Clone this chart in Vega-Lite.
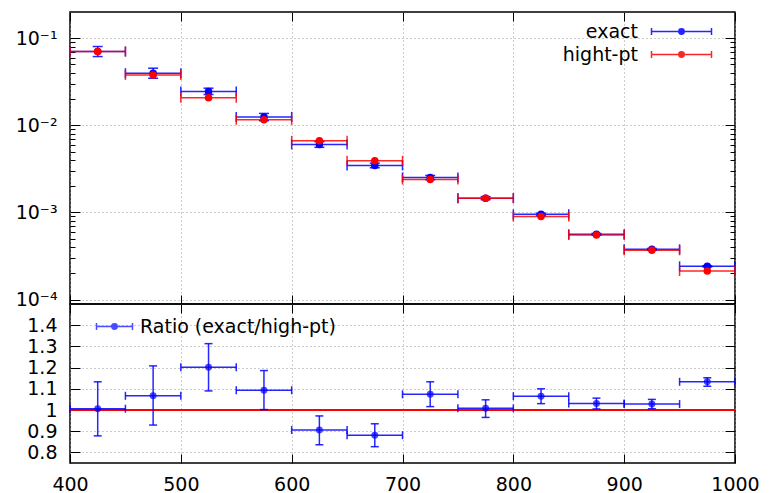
{
  "$schema": "https://vega.github.io/schema/vega-lite/v6.json",
  "autosize": {"type": "pad"},
  "padding": {"left": 14, "top": 10, "right": 0, "bottom": 0},
  "background": "white",
  "config": {
    "font": "DejaVu Sans",
    "view": {"stroke": "black", "strokeWidth": 1.5},
    "axis": {
      "labelFont": "DejaVu Sans", "labelFontSize": 19, "labelColor": "black", "labelFlush": false,
      "domain": false, "tickColor": "black", "tickWidth": 1,
      "gridColor": "#999999", "gridDash": [1, 3], "gridWidth": 1, "title": null
    },
    "legend": {"labelFont": "DejaVu Sans", "labelFontSize": 19, "labelColor": "black", "padding": 0, "labelLimit": 400}
  },
  "datasets": {
    "top": [
      {"s": "exact", "lo": 400, "hi": 450, "xc": 425, "y": 0.0703, "ylo": 0.0616, "yhi": 0.0803},
      {"s": "exact", "lo": 450, "hi": 500, "xc": 475, "y": 0.0397, "ylo": 0.0347, "yhi": 0.0453},
      {"s": "exact", "lo": 500, "hi": 550, "xc": 525, "y": 0.0245, "ylo": 0.0226, "yhi": 0.0267},
      {"s": "exact", "lo": 550, "hi": 600, "xc": 575, "y": 0.0125, "ylo": 0.0113, "yhi": 0.0137},
      {"s": "exact", "lo": 600, "hi": 650, "xc": 625, "y": 0.00604, "ylo": 0.00559, "yhi": 0.00649},
      {"s": "exact", "lo": 650, "hi": 700, "xc": 675, "y": 0.00347, "ylo": 0.00326, "yhi": 0.00368},
      {"s": "exact", "lo": 700, "hi": 750, "xc": 725, "y": 0.00252, "ylo": 0.00238, "yhi": 0.00266},
      {"s": "exact", "lo": 750, "hi": 800, "xc": 775, "y": 0.00146, "ylo": 0.0014, "yhi": 0.00152},
      {"s": "exact", "lo": 800, "hi": 850, "xc": 825, "y": 0.000951, "ylo": 0.00092, "yhi": 0.000982},
      {"s": "exact", "lo": 850, "hi": 900, "xc": 875, "y": 0.000561, "ylo": 0.000547, "yhi": 0.000575},
      {"s": "exact", "lo": 900, "hi": 950, "xc": 925, "y": 0.000378, "ylo": 0.00037, "yhi": 0.000386},
      {"s": "exact", "lo": 950, "hi": 1000, "xc": 975, "y": 0.000241, "ylo": 0.000237, "yhi": 0.000245},
      {"s": "hight-pt", "lo": 400, "hi": 450, "xc": 425, "y": 0.0705},
      {"s": "hight-pt", "lo": 450, "hi": 500, "xc": 475, "y": 0.0379},
      {"s": "hight-pt", "lo": 500, "hi": 550, "xc": 525, "y": 0.0207},
      {"s": "hight-pt", "lo": 550, "hi": 600, "xc": 575, "y": 0.0116},
      {"s": "hight-pt", "lo": 600, "hi": 650, "xc": 625, "y": 0.00664},
      {"s": "hight-pt", "lo": 650, "hi": 700, "xc": 675, "y": 0.00392},
      {"s": "hight-pt", "lo": 700, "hi": 750, "xc": 725, "y": 0.00239},
      {"s": "hight-pt", "lo": 750, "hi": 800, "xc": 775, "y": 0.00146},
      {"s": "hight-pt", "lo": 800, "hi": 850, "xc": 825, "y": 0.000898},
      {"s": "hight-pt", "lo": 850, "hi": 900, "xc": 875, "y": 0.000551},
      {"s": "hight-pt", "lo": 900, "hi": 950, "xc": 925, "y": 0.000368},
      {"s": "hight-pt", "lo": 950, "hi": 1000, "xc": 975, "y": 0.000213}
    ],
    "ratio": [
      {"s": "Ratio (exact/high-pt)", "lo": 400, "hi": 450, "xc": 425, "r": 1.006, "rlo": 0.878, "rhi": 1.133},
      {"s": "Ratio (exact/high-pt)", "lo": 450, "hi": 500, "xc": 475, "r": 1.067, "rlo": 0.929, "rhi": 1.208},
      {"s": "Ratio (exact/high-pt)", "lo": 500, "hi": 550, "xc": 525, "r": 1.202, "rlo": 1.09, "rhi": 1.313},
      {"s": "Ratio (exact/high-pt)", "lo": 550, "hi": 600, "xc": 575, "r": 1.093, "rlo": 1.002, "rhi": 1.186},
      {"s": "Ratio (exact/high-pt)", "lo": 600, "hi": 650, "xc": 625, "r": 0.906, "rlo": 0.836, "rhi": 0.972},
      {"s": "Ratio (exact/high-pt)", "lo": 650, "hi": 700, "xc": 675, "r": 0.881, "rlo": 0.827, "rhi": 0.935},
      {"s": "Ratio (exact/high-pt)", "lo": 700, "hi": 750, "xc": 725, "r": 1.074, "rlo": 1.016, "rhi": 1.133},
      {"s": "Ratio (exact/high-pt)", "lo": 750, "hi": 800, "xc": 775, "r": 1.008, "rlo": 0.965, "rhi": 1.048},
      {"s": "Ratio (exact/high-pt)", "lo": 800, "hi": 850, "xc": 825, "r": 1.065, "rlo": 1.03, "rhi": 1.1},
      {"s": "Ratio (exact/high-pt)", "lo": 850, "hi": 900, "xc": 875, "r": 1.031, "rlo": 1.005, "rhi": 1.056},
      {"s": "Ratio (exact/high-pt)", "lo": 900, "hi": 950, "xc": 925, "r": 1.028, "rlo": 1.006, "rhi": 1.05},
      {"s": "Ratio (exact/high-pt)", "lo": 950, "hi": 1000, "xc": 975, "r": 1.133, "rlo": 1.112, "rhi": 1.152}
    ]
  },
  "resolve": {
    "scale": {"fill": "independent", "stroke": "independent"},
    "legend": {"fill": "independent", "stroke": "independent"}
  },
  "spacing": 0,
  "bounds": "flush",
  "vconcat": [
    {
      "width": 665,
      "height": 292,
      "data": {"name": "top"},
      "resolve": {"axis": {"x": "independent", "y": "independent"}},
      "layer": [
        {
          "mark": {"type": "rule", "strokeWidth": 1.5, "opacity": 0.85},
          "encoding": {
            "x": {"field": "lo", "type": "quantitative", "scale": {"domain": [400, 1000], "nice": false, "zero": false},
                  "axis": {"orient": "bottom", "values": [400, 500, 600, 700, 800, 900, 1000], "labels": false, "tickSize": -9, "grid": true}},
            "x2": {"field": "hi"},
            "y": {"field": "y", "type": "quantitative", "scale": {"type": "log", "domain": [0.000089, 0.2], "nice": false},
                  "axis": {"orient": "left", "values": [0.0001, 0.001, 0.01, 0.1], "tickSize": -10, "grid": true, "labelPadding": 23,
                           "labelExpr": "datum.value < 0.0005 ? '10⁻⁴' : datum.value < 0.005 ? '10⁻³' : datum.value < 0.05 ? '10⁻²' : '10⁻¹'"}},
            "color": {"condition": {"test": "datum.s === 'exact'", "value": "#0000ff"}, "value": "#ff0000"}
          }
        },
        {
          "mark": {"type": "tick", "orient": "vertical", "size": 10, "thickness": 1.5, "opacity": 0.85},
          "encoding": {
            "x": {"field": "lo", "type": "quantitative", "scale": {"domain": [400, 1000], "nice": false, "zero": false},
                  "axis": {"orient": "top", "values": [400, 500, 600, 700, 800, 900, 1000], "labels": false, "tickSize": -9, "grid": false}},
            "y": {"field": "y", "type": "quantitative", "scale": {"type": "log", "domain": [0.000089, 0.2], "nice": false},
                  "axis": {"orient": "right", "values": [0.0001, 0.001, 0.01, 0.1], "labels": false, "tickSize": -10, "grid": false}},
            "color": {"condition": {"test": "datum.s === 'exact'", "value": "#0000ff"}, "value": "#ff0000"}
          }
        },
        {
          "mark": {"type": "tick", "orient": "vertical", "size": 10, "thickness": 1.5, "opacity": 0.85},
          "encoding": {
            "x": {"field": "hi", "type": "quantitative", "scale": {"domain": [400, 1000], "nice": false, "zero": false}, "axis": null},
            "y": {"field": "y", "type": "quantitative", "scale": {"type": "log", "domain": [0.000089, 0.2], "nice": false},
                  "axis": {"orient": "left", "values": [0.0002, 0.0003, 0.0004, 0.0005, 0.0006, 0.0007, 0.0008, 0.0009, 0.002, 0.003, 0.004, 0.005, 0.006, 0.007, 0.008, 0.009, 0.02, 0.03, 0.04, 0.05, 0.06, 0.07, 0.08, 0.09], "labels": false, "tickSize": -5, "grid": false}},
            "color": {"condition": {"test": "datum.s === 'exact'", "value": "#0000ff"}, "value": "#ff0000"}
          }
        },
        {
          "transform": [{"filter": "datum.s === 'exact'"}],
          "mark": {"type": "rule", "strokeWidth": 1.5, "opacity": 0.85, "color": "#0000ff"},
          "encoding": {
            "x": {"field": "xc", "type": "quantitative", "scale": {"domain": [400, 1000], "nice": false, "zero": false}, "axis": null},
            "y": {"field": "ylo", "type": "quantitative", "scale": {"type": "log", "domain": [0.000089, 0.2], "nice": false},
                  "axis": {"orient": "right", "values": [0.0002, 0.0003, 0.0004, 0.0005, 0.0006, 0.0007, 0.0008, 0.0009, 0.002, 0.003, 0.004, 0.005, 0.006, 0.007, 0.008, 0.009, 0.02, 0.03, 0.04, 0.05, 0.06, 0.07, 0.08, 0.09], "labels": false, "tickSize": -5, "grid": false}},
            "y2": {"field": "yhi"}
          }
        },
        {
          "transform": [{"filter": "datum.s === 'exact'"}],
          "mark": {"type": "tick", "orient": "horizontal", "size": 10, "thickness": 1.5, "opacity": 0.85, "color": "#0000ff"},
          "encoding": {
            "x": {"field": "xc", "type": "quantitative", "scale": {"domain": [400, 1000], "nice": false, "zero": false}, "axis": null},
            "y": {"field": "ylo", "type": "quantitative", "scale": {"type": "log", "domain": [0.000089, 0.2], "nice": false}, "axis": null}
          }
        },
        {
          "transform": [{"filter": "datum.s === 'exact'"}],
          "mark": {"type": "tick", "orient": "horizontal", "size": 10, "thickness": 1.5, "opacity": 0.85, "color": "#0000ff"},
          "encoding": {
            "x": {"field": "xc", "type": "quantitative", "scale": {"domain": [400, 1000], "nice": false, "zero": false}, "axis": null},
            "y": {"field": "yhi", "type": "quantitative", "scale": {"type": "log", "domain": [0.000089, 0.2], "nice": false}, "axis": null}
          }
        },
        {
          "mark": {"type": "point", "shape": "circle", "filled": true, "size": 36, "opacity": 1, "strokeWidth": 1.5},
          "encoding": {
            "x": {"field": "xc", "type": "quantitative", "scale": {"domain": [400, 1000], "nice": false, "zero": false}, "axis": null},
            "y": {"field": "y", "type": "quantitative", "scale": {"type": "log", "domain": [0.000089, 0.2], "nice": false}, "axis": null},
            "fill": {"field": "s", "type": "nominal", "scale": {"domain": ["exact", "hight-pt"], "range": ["#0000ff", "#ff0000"]},
                     "legend": {"title": null, "orient": "none", "legendX": 602, "legendY": 10, "symbolType": "M-5,0L5,0M-5,-0.6L-5,0.6M5,-0.6L5,0.6M0.45,0A0.45,0.45,0,1,1,-0.45,0A0.45,0.45,0,1,1,0.45,0Z", "symbolSize": 144, "symbolStrokeWidth": 1.5, "symbolOpacity": 0.85, "labelAlign": "right", "labelOffset": -53, "rowPadding": 3, "labelBaseline": "middle"}},
            "stroke": {"field": "s", "type": "nominal", "scale": {"domain": ["exact", "hight-pt"], "range": ["#0000ff", "#ff0000"]},
                     "legend": {"title": null, "orient": "none", "legendX": 602, "legendY": 10, "symbolType": "M-5,0L5,0M-5,-0.6L-5,0.6M5,-0.6L5,0.6M0.45,0A0.45,0.45,0,1,1,-0.45,0A0.45,0.45,0,1,1,0.45,0Z", "symbolSize": 144, "symbolStrokeWidth": 1.5, "symbolOpacity": 0.85, "labelAlign": "right", "labelOffset": -53, "rowPadding": 3, "labelBaseline": "middle"}}
          }
        }
      ]
    },
    {
      "width": 665,
      "height": 159,
      "data": {"name": "ratio"},
      "resolve": {"axis": {"x": "independent", "y": "independent"}},
      "layer": [
        {
          "mark": {"type": "rule", "color": "#ff0000", "strokeWidth": 1.5, "opacity": 0.85},
          "encoding": {
            "y": {"datum": 1, "type": "quantitative", "scale": {"domain": [0.75, 1.5], "nice": false, "zero": false}, "axis": null}
          }
        },
        {
          "mark": {"type": "rule", "strokeWidth": 1.5, "opacity": 0.85, "color": "#0000ff"},
          "encoding": {
            "x": {"field": "lo", "type": "quantitative", "scale": {"domain": [400, 1000], "nice": false, "zero": false},
                  "axis": {"orient": "bottom", "values": [400, 500, 600, 700, 800, 900, 1000], "format": "d", "tickSize": -9, "grid": true, "labelPadding": 21, "labelFlush": false, "labelOverlap": false}},
            "x2": {"field": "hi"},
            "y": {"field": "r", "type": "quantitative", "scale": {"domain": [0.75, 1.5], "nice": false, "zero": false},
                  "axis": {"orient": "left", "values": [0.8, 0.9, 1, 1.1, 1.2, 1.3, 1.4], "format": ".1~f", "tickSize": -10, "grid": true, "labelPadding": 23}}
          }
        },
        {
          "mark": {"type": "tick", "orient": "vertical", "size": 8, "thickness": 1.5, "opacity": 0.85, "color": "#0000ff"},
          "encoding": {
            "x": {"field": "lo", "type": "quantitative", "scale": {"domain": [400, 1000], "nice": false, "zero": false},
                  "axis": {"orient": "top", "values": [400, 500, 600, 700, 800, 900, 1000], "labels": false, "tickSize": -9, "grid": false}},
            "y": {"field": "r", "type": "quantitative", "scale": {"domain": [0.75, 1.5], "nice": false, "zero": false},
                  "axis": {"orient": "right", "values": [0.8, 0.9, 1, 1.1, 1.2, 1.3, 1.4], "labels": false, "tickSize": -10, "grid": false}}
          }
        },
        {
          "mark": {"type": "tick", "orient": "vertical", "size": 8, "thickness": 1.5, "opacity": 0.85, "color": "#0000ff"},
          "encoding": {
            "x": {"field": "hi", "type": "quantitative", "scale": {"domain": [400, 1000], "nice": false, "zero": false}, "axis": null},
            "y": {"field": "r", "type": "quantitative", "scale": {"domain": [0.75, 1.5], "nice": false, "zero": false}, "axis": null}
          }
        },
        {
          "mark": {"type": "rule", "strokeWidth": 1.5, "opacity": 0.85, "color": "#0000ff"},
          "encoding": {
            "x": {"field": "xc", "type": "quantitative", "scale": {"domain": [400, 1000], "nice": false, "zero": false}, "axis": null},
            "y": {"field": "rlo", "type": "quantitative", "scale": {"domain": [0.75, 1.5], "nice": false, "zero": false}, "axis": null},
            "y2": {"field": "rhi"}
          }
        },
        {
          "mark": {"type": "tick", "orient": "horizontal", "size": 8, "thickness": 1.5, "opacity": 0.85, "color": "#0000ff"},
          "encoding": {
            "x": {"field": "xc", "type": "quantitative", "scale": {"domain": [400, 1000], "nice": false, "zero": false}, "axis": null},
            "y": {"field": "rlo", "type": "quantitative", "scale": {"domain": [0.75, 1.5], "nice": false, "zero": false}, "axis": null}
          }
        },
        {
          "mark": {"type": "tick", "orient": "horizontal", "size": 8, "thickness": 1.5, "opacity": 0.85, "color": "#0000ff"},
          "encoding": {
            "x": {"field": "xc", "type": "quantitative", "scale": {"domain": [400, 1000], "nice": false, "zero": false}, "axis": null},
            "y": {"field": "rhi", "type": "quantitative", "scale": {"domain": [0.75, 1.5], "nice": false, "zero": false}, "axis": null}
          }
        },
        {
          "mark": {"type": "point", "shape": "circle", "filled": true, "size": 30, "strokeWidth": 1.5},
          "encoding": {
            "x": {"field": "xc", "type": "quantitative", "scale": {"domain": [400, 1000], "nice": false, "zero": false}, "axis": null},
            "y": {"field": "r", "type": "quantitative", "scale": {"domain": [0.75, 1.5], "nice": false, "zero": false}, "axis": null},
            "fill": {"field": "s", "type": "nominal", "scale": {"domain": ["Ratio (exact/high-pt)"], "range": ["#0000ff"]},
                     "legend": {"title": null, "orient": "none", "legendX": 35, "legendY": 13, "symbolType": "M-3,0L3,0M-3,-0.6L-3,0.6M3,-0.6L3,0.6M0.45,0A0.45,0.45,0,1,1,-0.45,0A0.45,0.45,0,1,1,0.45,0Z", "symbolSize": 144, "symbolStrokeWidth": 1.5, "labelOffset": 16, "labelBaseline": "middle"}},
            "stroke": {"field": "s", "type": "nominal", "scale": {"domain": ["Ratio (exact/high-pt)"], "range": ["#0000ff"]},
                     "legend": {"title": null, "orient": "none", "legendX": 35, "legendY": 13, "symbolType": "M-3,0L3,0M-3,-0.6L-3,0.6M3,-0.6L3,0.6M0.45,0A0.45,0.45,0,1,1,-0.45,0A0.45,0.45,0,1,1,0.45,0Z", "symbolSize": 144, "symbolStrokeWidth": 1.5, "labelOffset": 16, "labelBaseline": "middle"}}
          }
        }
      ]
    }
  ]
}
